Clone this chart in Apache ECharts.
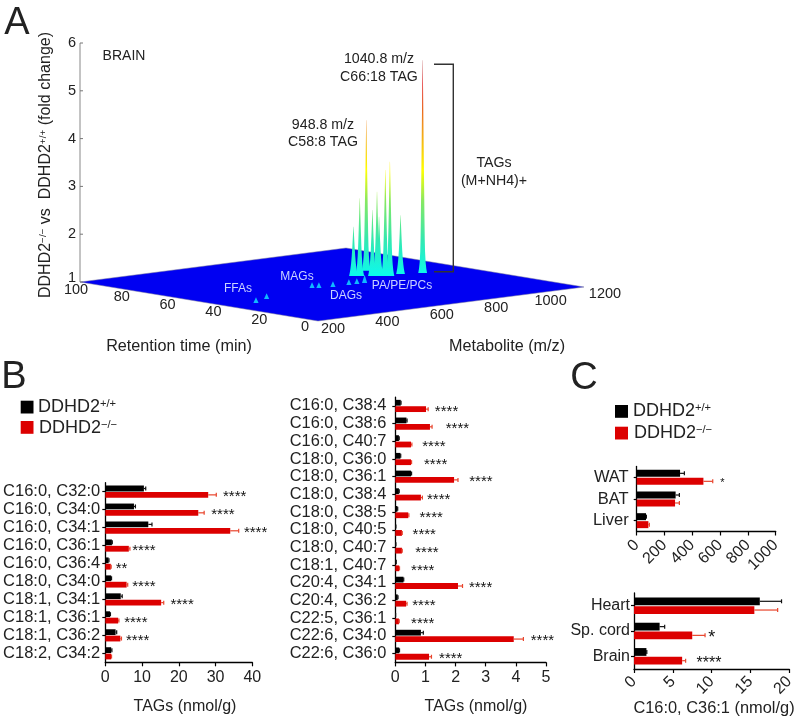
<!DOCTYPE html>
<html><head><meta charset="utf-8">
<style>html,body{margin:0;padding:0;background:#fff}#c{width:799px;height:718px}</style>
<script src="https://cdn.jsdelivr.net/npm/echarts@6/dist/echarts.min.js"></script>
</head><body><div id="c"></div>
<script>
// ---------- Panel A data ----------
const foldTicks = [1,2,3,4,5,6];
const rtTicks = [0,20,40,60,80,100];
const mzTicks = [200,400,600,800,1000,1200];
const peakMz   = [855,867,948.8,895,905,909,922,932,980,1040.8];
const peakRt   = [58.3,57,63.4,54.8,54,53.6,52.4,51.6,52.5,50];
const peakFold = [2.03,2.63,4.15,2.38,2.76,2.24,3.22,3.39,2.23,5.45];
const smallMz   = [314,388,625,640,683,742,772,801];
const smallRt   = [38.8,42.6,50,48.8,47.7,47.6,47.6,47.6];
const smallFold = [1.1,1.1,1.1,1.1,1.1,1.1,1.1,1.15];

// ---------- Panel B left ----------
const catsB1 = ['C16:0, C32:0','C16:0, C34:0','C16:0, C34:1','C16:0, C36:1','C16:0, C36:4','C18:0, C34:0','C18:1, C34:1','C18:1, C36:1','C18:1, C36:2','C18:2, C34:2'];
const wtB1  = [10.5,7.8,11.7,1.8,0.9,1.6,4.2,1.3,2.8,1.6];
const wtB1e = [0.5,0.4,1.0,0.1,0.1,0.1,0.4,0.1,0.3,0.2];
const koB1  = [28,25.3,34,6.4,1.5,5.8,15.2,3.5,4.1,1.6];
const koB1e = [2.2,1.6,2.3,0.3,0.1,0.3,0.7,0.2,0.3,0.1];
const starsB1 = ['****','****','****','****','**','****','****','****','****',''];
const starXB1 = [35.2,32,40.9,10.5,4.4,10.5,20.9,8.3,8.8,0];

// ---------- Panel B right ----------
const catsB2 = ['C16:0, C38:4','C16:0, C38:6','C16:0, C40:7','C18:0, C36:0','C18:0, C36:1','C18:0, C38:4','C18:0, C38:5','C18:0, C40:5','C18:0, C40:7','C18:1, C40:7','C20:4, C34:1','C20:4, C36:2','C22:5, C36:1','C22:6, C34:0','C22:6, C36:0'];
const wtB2  = [0.18,0.37,0.12,0.17,0.52,0.12,0.07,0.02,0.02,0.03,0.27,0.08,0.01,0.85,0.13];
const wtB2e = [0.01,0.02,0.01,0.01,0.02,0.01,0.01,0,0,0,0.01,0.01,0,0.08,0.01];
const koB2  = [1.02,1.15,0.52,0.52,1.95,0.85,0.43,0.22,0.22,0.13,2.08,0.36,0.12,3.93,1.12];
const koB2e = [0.07,0.07,0.03,0.02,0.13,0.05,0.02,0.01,0.01,0.01,0.15,0.03,0.01,0.32,0.08];
const starsB2 = ['****','****','****','****','****','****','****','****','****','****','****','****','****','****','****'];
const starXB2 = [1.70,2.06,1.28,1.34,2.84,1.44,1.19,0.96,1.05,0.91,2.83,0.95,0.91,4.88,1.84];

// ---------- Panel C ----------
const catsC1 = ['WAT','BAT','Liver'];
const wtC1  = [312,280,67];
const wtC1e = [31,27,3];
const koC1  = [480,276,84];
const koC1e = [67,31,7];
const starsC1 = ['*','',''];
const starXC1 = [616,0,0];

const catsC2 = ['Heart','Sp. cord','Brain'];
const wtC2  = [16.2,3.3,1.6];
const wtC2e = [2.8,0.65,0.05];
const koC2  = [15.5,7.5,6.2];
const koC2e = [3,1.65,0.45];
const starsC2 = ['','*','****'];
const starXC2 = [0,10,9.65];

// ---------- Projection of panel A (axes to screen) ----------
const P = {x0:318,y0:321,ax:266,ay:-34,bx:-238,by:-39,fy:47.8};
function project(mz,rt,fold){
  const a=(mz-200)/1000,b=rt/100;
  return [P.x0+a*P.ax+b*P.bx, P.y0+a*P.ay+b*P.by-(fold-1)*P.fy];
}
const FONT='"Liberation Sans",Arial,sans-serif';
const BLACK='#000000',RED='#dc0000',REDERR='#e8442c';

function noneSeries(data,render,z){
  return {type:'custom',coordinateSystem:'none',data:data,renderItem:render,z:z||2,silent:true,animation:false};
}
const series=[];
// floor
series.push(noneSeries([[200,1200,0,100]],function(p,api){
  const m0=api.value(0),m1=api.value(1),r0=api.value(2),r1=api.value(3);
  return {type:'polygon',shape:{points:[project(m0,r1,1),project(m0,r0,1),project(m1,r0,1),project(m1,r1,1)]},style:{fill:'#0000f2',stroke:'#7a7a9a',lineWidth:0.5}};
},1));
// fold axis
series.push(noneSeries(foldTicks.map(v=>[v]),function(p,api){
  const v=api.value(0),q=project(200,100,v);
  const lift=v===1?-4:0;
  return {type:'group',children:[
    {type:'line',shape:{x1:q[0],y1:q[1],x2:q[0]+3,y2:q[1]},style:{stroke:'#777',lineWidth:1}},
    {type:'text',style:{text:String(v),x:q[0]-8,y:q[1]+lift,align:'center',verticalAlign:'middle',font:'14.5px '+FONT,fill:'#222'}}
  ]};
},3));
series.push(noneSeries([[1,6]],function(p,api){
  const a=project(200,100,api.value(0)),b=project(200,100,api.value(1));
  return {type:'line',shape:{x1:a[0],y1:a[1],x2:b[0],y2:b[1]},style:{stroke:'#888',lineWidth:1}};
},1));
// retention ticks
series.push(noneSeries(rtTicks.map(v=>[v]),function(p,api){
  const v=api.value(0),q=project(200,v,1);
  const t=1-v/100;
  return {type:'text',style:{text:String(v),x:q[0]-4-9*t,y:q[1]+8-2*t,align:'center',verticalAlign:'middle',font:'14.5px '+FONT,fill:'#222'}};
},3));
// m/z ticks
series.push(noneSeries(mzTicks.map(v=>[v]),function(p,api){
  const v=api.value(0),q=project(v,0,1);
  const a=(v-200)/1000;
  return {type:'text',style:{text:String(v),x:q[0]+15+6*a,y:q[1]+8-a,align:'center',verticalAlign:'middle',font:'14.5px '+FONT,fill:'#222'}};
},3));
// small triangles
series.push(noneSeries(smallMz.map((m,i)=>[m,smallRt[i],smallFold[i]]),function(p,api){
  const b=project(api.value(0),api.value(1),1),t=project(api.value(0),api.value(1),api.value(2));
  const h=Math.max(b[1]-t[1],4);
  return {type:'polygon',shape:{points:[[b[0]-2.6,b[1]+1],[b[0],b[1]-h],[b[0]+2.6,b[1]+1]]},style:{fill:'#10b8ff'}};
},2));
// peaks, rainbow by height
const jetY=project(200,100,1)[1];
const jet=[[1.0,'#00ffee'],[1.2,'#10f8e8'],[1.88,'#33e8b0'],[2.7,'#88e860'],[3.34,'#ffff00'],[4.3,'#f09020'],[5.16,'#e02020'],[5.65,'#a83030']];
const jetFill={type:'linear',global:true,x:0,y:jetY,x2:0,y2:jetY-(6-1)*P.fy,
  colorStops:jet.map(s=>({offset:(s[0]-1)/5,color:s[1]}))};
const taper=[0,0.02,0.05,0.1,0.16,0.25,0.4,0.6,0.8,1];
const peakOrder=peakMz.map((m,i)=>[m,peakRt[i],peakFold[i]]).sort((a,b)=>b[1]-a[1]);
series.push(noneSeries(peakOrder,function(p,api){
  const b=project(api.value(0),api.value(1),1),t=project(api.value(0),api.value(1),api.value(2));
  const H=b[1]-t[1],L=[],R=[];
  taper.forEach(f=>{
    const h=f*H;
    const hw=0.1+2.3*(1-f)+2.0*Math.exp(-h/10);
    L.push([b[0]-hw,b[1]-h]);R.unshift([b[0]+hw,b[1]-h]);
  });
  return {type:'polygon',shape:{points:L.concat(R)},style:{fill:jetFill}};
},2));

// ---------- Bars ----------
const grids=[],xAxes=[],yAxes=[];
function panel(cfg){
  const gi=grids.length;
  grids.push({left:cfg.left,top:cfg.top,width:cfg.width,height:cfg.height,containLabel:false,outerBoundsMode:'none'});
  xAxes.push({type:'value',gridIndex:gi,min:0,max:cfg.max,interval:cfg.interval,splitLine:{show:false},
    axisLine:{show:true,onZero:false,lineStyle:{color:'#000',width:1.3}},
    axisTick:{show:true,length:4,lineStyle:{color:'#000',width:1.2}},
    axisLabel:{color:'#222',fontFamily:FONT,fontSize:cfg.tickFont||16,margin:cfg.xMargin||7,rotate:cfg.rotate||0,interval:0,hideOverlap:false,formatter:v=>String(v)}});
  yAxes.push({type:'category',gridIndex:gi,inverse:true,data:cfg.cats,
    axisLine:{show:true,onZero:false,lineStyle:{color:'#000',width:1.3}},
    axisTick:{show:true,alignWithLabel:true,length:3,lineStyle:{color:'#000',width:1.2}},
    axisLabel:{color:'#222',fontFamily:FONT,fontSize:cfg.catFont||16.5,margin:cfg.yMargin||5,interval:0}});
  const common={type:'bar',xAxisIndex:gi,yAxisIndex:gi,barWidth:cfg.barW,barGap:cfg.gap,animation:false,silent:true};
  series.push(Object.assign({},common,{data:cfg.wt,itemStyle:{color:BLACK}}));
  series.push(Object.assign({},common,{data:cfg.ko,itemStyle:{color:RED}}));
  const off=cfg.barW*(1+parseFloat(cfg.gap)/100)/2;
  function err(vals,errs,sign,color){
    series.push({type:'custom',xAxisIndex:gi,yAxisIndex:gi,coordinateSystem:'cartesian2d',animation:false,silent:true,z:3,
      data:vals.map((v,i)=>[v,errs[i],i]),
      renderItem:function(p,api){
        const a=api.coord([api.value(0),api.value(2)]),b=api.coord([api.value(0)+api.value(1),api.value(2)]);
        const y=a[1]+sign*off;
        return {type:'group',children:[
          {type:'line',shape:{x1:a[0],y1:y,x2:b[0],y2:y},style:{stroke:color,lineWidth:1.2}},
          {type:'line',shape:{x1:b[0],y1:y-2,x2:b[0],y2:y+2},style:{stroke:color,lineWidth:1.2}}
        ]};
      }});
  }
  err(cfg.wt,cfg.wte,-1,'#111');
  err(cfg.ko,cfg.koe,1,REDERR);
  series.push({type:'custom',xAxisIndex:gi,yAxisIndex:gi,coordinateSystem:'cartesian2d',animation:false,silent:true,z:4,
    data:cfg.stars.map((s,i)=>[cfg.starX[i],i,s]),
    renderItem:function(p,api){
      const s=cfg.stars[api.value(1)];
      if(!s) return null;
      const c=api.coord([api.value(0),api.value(1)]);
      const fs=(s==='*'&&cfg.smallStar)?cfg.smallStar:(cfg.starFont||15);
      return {type:'text',style:{text:s,x:c[0],y:c[1]+off+fs*0.15,align:'center',verticalAlign:'middle',font:fs+'px '+FONT,fill:'#111'}};
    }});
}
panel({left:105.3,top:482.7,width:147,height:179.6,max:40,interval:10,cats:catsB1,wt:wtB1,wte:wtB1e,ko:koB1,koe:koB1e,stars:starsB1,starX:starXB1,barW:5.8,gap:'10%'});
panel({left:395.3,top:397.1,width:150.7,height:265.3,max:5,interval:1,yMargin:9,catFont:16.4,cats:catsB2,wt:wtB2,wte:wtB2e,ko:koB2,koe:koB2e,stars:starsB2,starX:starXB2,barW:5.8,gap:'10%'});
panel({left:636.7,top:466.5,width:139,height:65,max:1000,interval:200,rotate:45,xMargin:11,yMargin:8,cats:catsC1,wt:wtC1,wte:wtC1e,ko:koC1,koe:koC1e,stars:starsC1,starX:starXC1,barW:7,gap:'14%',smallStar:11});
panel({left:634,top:593,width:155.3,height:76,max:20,interval:5,rotate:45,xMargin:10,yMargin:4,catFont:16,cats:catsC2,wt:wtC2,wte:wtC2e,ko:koC2,koe:koC2e,stars:starsC2,starX:starXC2,barW:7.8,gap:'12%',starFont:16,smallStar:18});

// ---------- Text ----------
function label(text,x,y,size,opt){
  opt=opt||{};
  return {type:'text',x:x,y:y,z:10,rotation:opt.rotation||0,silent:true,
    style:{text:text,align:opt.align||'center',verticalAlign:'middle',font:size+'px '+FONT,fill:opt.fill||'#222',rich:opt.rich}};
}
function geno(size){return {a:{fontSize:size,fontFamily:FONT,fill:'#222',color:'#222'},s:{fontSize:size*0.62,fontFamily:FONT,fill:'#222',color:'#222',verticalAlign:'top'}};}
const WT='{a|DDHD2}{s|+/+}',KO='{a|DDHD2}{s|−/−}';
function sq(x,y,w,h,c){return {type:'rect',z:10,silent:true,shape:{x:x,y:y,width:w,height:h},style:{fill:c}};}
const graphic=[
  label('A',17,24,38),label('B',14,378,38),label('C',584,379,38),
  label('BRAIN',124,56,14),
  label('1040.8 m/z',379,59.5,14.2),label('C66:18 TAG',379,76.7,14.2),
  label('948.8 m/z',323,125,14.2),label('C58:8 TAG',323,142,14.2),
  label('TAGs',494,163,14.2),label('(M+NH4)+',494,181,14.2),
  label('Retention time (min)',179,347,16.2),label('Metabolite (m/z)',507,347,16.2),
  label('{a|DDHD2}{s|−/−}{a| vs  DDHD2}{s|+/+}{a| (fold change)}',46,165,16,{rotation:Math.PI/2,rich:geno(16)}),
  label('FFAs',238,289,12,{fill:'#c9d2ff'}),label('MAGs',297,277,12,{fill:'#c9d2ff'}),
  label('DAGs',346,296,12,{fill:'#c9d2ff'}),label('PA/PE/PCs',402,286,12,{fill:'#c9d2ff'}),
  {type:'polyline',z:10,silent:true,shape:{points:[[434,64.3],[453.3,64.3],[453.3,271.7],[434,271.7]]},style:{stroke:'#333',fill:null,lineWidth:1.4}},
  sq(20.7,400.7,12.8,12.8,BLACK),sq(20.7,421,12.8,12.8,RED),
  label(WT,38,407,18,{align:'left',rich:geno(18)}),label(KO,39,428,18,{align:'left',rich:geno(18)}),
  sq(615,405,13,12.8,BLACK),sq(615,426.7,13,12.8,RED),
  label(WT,633,411,18,{align:'left',rich:geno(18)}),label(KO,634,433,18,{align:'left',rich:geno(18)}),
  label('TAGs (nmol/g)',185,707,16),label('TAGs (nmol/g)',476,707,16),
  label('C16:0, C36:1 (nmol/g)',714,708,16.4)
];

const chart=echarts.init(document.getElementById('c'),null,{renderer:'canvas',width:799,height:718});
chart.setOption({animation:false,backgroundColor:'#fff',grid:grids,xAxis:xAxes,yAxis:yAxes,series:series,graphic:graphic});
</script></body></html>
